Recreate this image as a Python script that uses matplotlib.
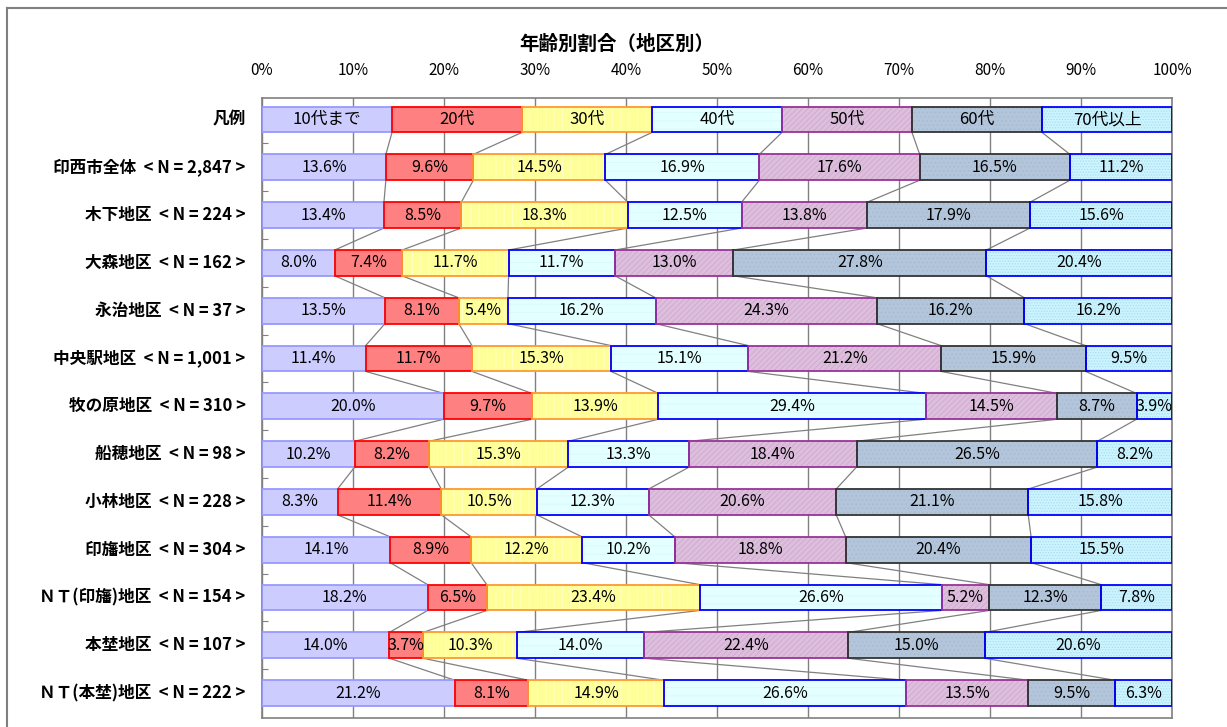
import matplotlib
matplotlib.use("Agg")
import matplotlib.pyplot as plt
from matplotlib.lines import Line2D
import numpy as np

plt.rcParams['font.family'] = ['Noto Sans CJK JP', 'DejaVu Sans']
plt.rcParams['hatch.linewidth'] = 0.6

title = "年齢別割合（地区別）"
age_groups = ["10代まで", "20代", "30代", "40代", "50代", "60代", "70代以上"]
areas = ["印西市全体  < N = 2,847 >", "木下地区  < N = 224 >", "大森地区  < N = 162 >",
         "永治地区  < N = 37 >", "中央駅地区  < N = 1,001 >", "牧の原地区  < N = 310 >",
         "船穂地区  < N = 98 >", "小林地区  < N = 228 >", "印旛地区  < N = 304 >",
         "ＮＴ(印旛)地区  < N = 154 >", "本埜地区  < N = 107 >", "ＮＴ(本埜)地区  < N = 222 >"]

age_10 = [13.6, 13.4, 8.0, 13.5, 11.4, 20.0, 10.2, 8.3, 14.1, 18.2, 14.0, 21.2]
age_20 = [9.6, 8.5, 7.4, 8.1, 11.7, 9.7, 8.2, 11.4, 8.9, 6.5, 3.7, 8.1]
age_30 = [14.5, 18.3, 11.7, 5.4, 15.3, 13.9, 15.3, 10.5, 12.2, 23.4, 10.3, 14.9]
age_40 = [16.9, 12.5, 11.7, 16.2, 15.1, 29.4, 13.3, 12.3, 10.2, 26.6, 14.0, 26.6]
age_50 = [17.6, 13.8, 13.0, 24.3, 21.2, 14.5, 18.4, 20.6, 18.8, 5.2, 22.4, 13.5]
age_60 = [16.5, 17.9, 27.8, 16.2, 15.9, 8.7, 26.5, 21.1, 20.4, 12.3, 15.0, 9.5]
age_70 = [11.2, 15.6, 20.4, 16.2, 9.5, 3.9, 8.2, 15.8, 15.5, 7.8, 20.6, 6.3]

fills = ["#CCCCFF", "#FF8080", "#FFFF99", "#E4FFFF", "#DDBFDD", "#B3C5DA", "#CCF4FF"]
hatches = [None, None, "||", "--", "//////", "....", "......"]
hatch_cols = [None, None, "#FFFFCC", "#D6FAFA", "#CFA9CF", "#A8BAD0", "#A8DDF0"]
edges = ["#9999FF", "#FF0000", "#FF9933", "#0000FF", "#993399", "#333333", "#0000FF"]

vals = np.array([age_10, age_20, age_30, age_40, age_50, age_60, age_70]).T
shares = vals / vals.sum(axis=1, keepdims=True) * 100
legend_row = np.full((1, 7), 100 / 7)
all_shares = np.vstack([legend_row, shares])
labels = ["凡例"] + areas
n = len(labels)
ypos = np.arange(n)
h = 0.54

fig = plt.figure(figsize=(12.27, 7.27), dpi=100)
ax = fig.add_axes([262 / 1227, 1 - 718 / 727, (1172 - 262) / 1227, (718 - 98) / 727])

left = np.zeros(n)
cum = []
for j in range(7):
    w = all_shares[:, j]
    ax.barh(ypos, w, height=h, left=left, color=fills[j], lw=0, zorder=2)
    if hatches[j]:
        ax.barh(ypos, w, height=h, left=left, color="none", hatch=hatches[j],
                edgecolor=hatch_cols[j], lw=0, zorder=3)
    ax.barh(ypos, w, height=h, left=left, color="none", edgecolor=edges[j], lw=1.3, zorder=4)
    for i in range(n):
        cx = left[i] + w[i] / 2
        if i == 0:
            ax.text(cx, ypos[i], age_groups[j], ha='center', va='center', fontsize=12, zorder=5)
        else:
            ax.text(cx, ypos[i], "%.1f%%" % vals[i - 1, j], ha='center', va='center',
                    fontsize=11.5, zorder=5)
    left = left + w
    cum.append(left.copy())

# series lines between rows
for j in range(6):
    c = cum[j]
    for i in range(n - 1):
        ax.plot([c[i], c[i + 1]], [ypos[i] + h / 2, ypos[i + 1] - h / 2],
                color="#808080", lw=0.9, zorder=1)

ax.set_xlim(0, 100)
ax.set_ylim(n - 0.48, -0.45)
ax.set_xticks(np.arange(0, 101, 10))
ax.set_xticklabels(["%d%%" % v for v in range(0, 101, 10)])
ax.xaxis.tick_top()
ax.tick_params(axis='x', length=0, pad=14, labelsize=11)
ax.set_yticks(ypos[:-1] + 0.5)
ax.tick_params(axis='y', direction='in', length=4, color="#808080", labelleft=False)
for i, lab in enumerate(labels):
    ax.text(-1.8, ypos[i], lab, ha='right', va='center', fontsize=12,
            fontweight='bold')
ax.grid(axis='x', color="#808080", lw=1.0, zorder=0)
ax.set_axisbelow(True)
for s in ax.spines.values():
    s.set_color("#808080")
    s.set_linewidth(1.2)

fig.text(617 / 1227, 1 - 44 / 727, title, ha='center', va='center', fontsize=14,
         fontweight='bold')

# outer frame
fig.add_artist(Line2D([7 / 1227, 7 / 1227], [0, 1 - 8 / 727], color="#808080", lw=1.5,
                      transform=fig.transFigure))
fig.add_artist(Line2D([7 / 1227, 1], [1 - 8 / 727, 1 - 8 / 727], color="#808080", lw=1.5,
                      transform=fig.transFigure))

fig.savefig("out.png", dpi=100)
